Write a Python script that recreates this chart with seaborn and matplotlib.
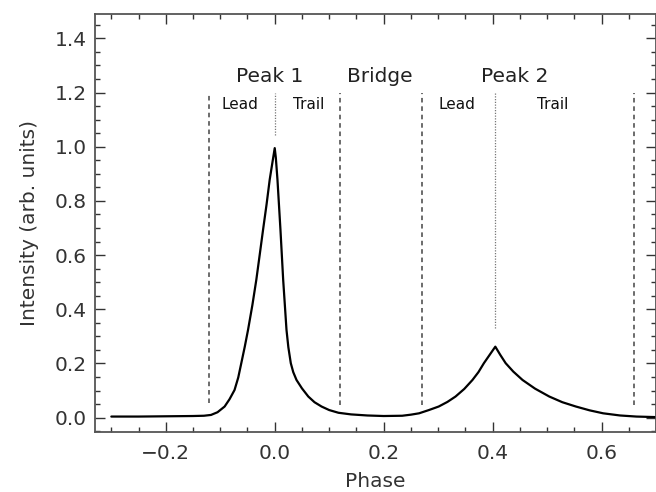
import matplotlib
matplotlib.use("Agg")
import matplotlib.pyplot as plt
from matplotlib.ticker import MultipleLocator
import seaborn as sns
import pandas as pd

# ---- data ----
phase = [-0.300, -0.250, -0.200, -0.150, -0.130, -0.117, -0.105, -0.092,
         -0.083, -0.0738, -0.067, -0.0614, -0.055, -0.049, -0.041, -0.0338,
         -0.0276, -0.0214, -0.015, -0.0092, -0.004, 0.000, 0.002, 0.005,
         0.0105, 0.0155, 0.0216, 0.025, 0.0295, 0.034, 0.040, 0.050,
         0.0616, 0.073, 0.086, 0.100, 0.117, 0.140, 0.170, 0.200, 0.234,
         0.250, 0.265, 0.283, 0.301, 0.317, 0.332, 0.348, 0.363, 0.374,
         0.384, 0.395, 0.405, 0.414, 0.424, 0.438, 0.455, 0.478, 0.504,
         0.528, 0.553, 0.578, 0.603, 0.634, 0.664, 0.700]
intensity = [0.004, 0.004, 0.005, 0.006, 0.007, 0.010, 0.020, 0.041,
             0.068, 0.102, 0.148, 0.201, 0.262, 0.324, 0.416, 0.509,
             0.601, 0.694, 0.787, 0.879, 0.945, 0.995, 0.960, 0.879,
             0.694, 0.509, 0.324, 0.260, 0.201, 0.168, 0.139, 0.108,
             0.078, 0.057, 0.041, 0.028, 0.018, 0.012, 0.008, 0.006, 0.007,
             0.011, 0.016, 0.028, 0.041, 0.058, 0.078, 0.106, 0.139, 0.168,
             0.201, 0.233, 0.262, 0.232, 0.201, 0.170, 0.139, 0.107, 0.078,
             0.057, 0.041, 0.027, 0.016, 0.008, 0.004, 0.002]

xticks = [-0.2, 0.0, 0.2, 0.4, 0.6]
yticks = [0.0, 0.2, 0.4, 0.6, 0.8, 1.0, 1.2, 1.4]

region_labels = ["Peak 1", "Bridge", "Peak 2"]
region_label_x = [-0.010, 0.193, 0.440]
region_label_y = 1.24
sub_labels = ["Lead", "Trail", "Lead", "Trail"]
sub_label_x = [-0.064, 0.062, 0.334, 0.510]
sub_label_y = 1.14

boundaries = [-0.12, 0.12, 0.27, 0.66]
boundary_bottom = [0.054, 0.047, 0.047, 0.047]
peak_centers = [0.000, 0.405]
peak_marker_bottom = [1.045, 0.33]
line_top = 1.2

df = pd.DataFrame({"Phase": phase, "Intensity": intensity})

# ---- figure ----
sns.set_style("ticks")
plt.rcParams["font.family"] = ["DejaVu Sans"]
fig = plt.figure(figsize=(6.56, 4.92), dpi=100)
ax = fig.add_axes([0.1448, 0.1225, 0.8552, 0.849])

sns.lineplot(data=df, x="Phase", y="Intensity", ax=ax, color="black",
             lw=1.6, estimator=None, sort=False)

for xb, yb in zip(boundaries, boundary_bottom):
    ax.plot([xb, xb], [yb, line_top], color="#444444", lw=1.1,
            dashes=(3, 2.5))
for xc, yb in zip(peak_centers, peak_marker_bottom):
    ax.plot([xc, xc], [yb, line_top], color="#777777", lw=0.9,
            dashes=(1.0, 1.2))

for lab, xl in zip(region_labels, region_label_x):
    ax.text(xl, region_label_y, lab, ha="center", va="baseline",
            fontsize=14.5, color="#222222")
for lab, xl in zip(sub_labels, sub_label_x):
    ax.text(xl, sub_label_y, lab, ha="center", va="baseline",
            fontsize=11, color="#111111")

ax.set_xlim(-0.33, 0.70)
ax.set_ylim(-0.052, 1.49)
ax.set_xticks(xticks)
ax.set_yticks(yticks)
ax.xaxis.set_minor_locator(MultipleLocator(0.05))
ax.yaxis.set_minor_locator(MultipleLocator(0.05))
ax.tick_params(which="both", direction="in", top=True, right=True,
               color="#333333", width=1.0, labelsize=14.5,
               labelcolor="#333333")
ax.tick_params(which="major", length=7)
ax.tick_params(which="minor", length=3.5)
ax.tick_params(axis="x", which="major", pad=9)
ax.tick_params(axis="y", which="major", pad=6)

ax.set_xlabel("Phase", fontsize=14.5, color="#333333")
ax.set_ylabel("Intensity (arb. units)", fontsize=14.5, color="#333333")
ax.xaxis.set_label_coords(0.5, -0.097)
ax.yaxis.set_label_coords(-0.10, 0.5)

for s in ax.spines.values():
    s.set_color("#555555")
    s.set_linewidth(1.3)

fig.savefig("out.png", dpi=100)
